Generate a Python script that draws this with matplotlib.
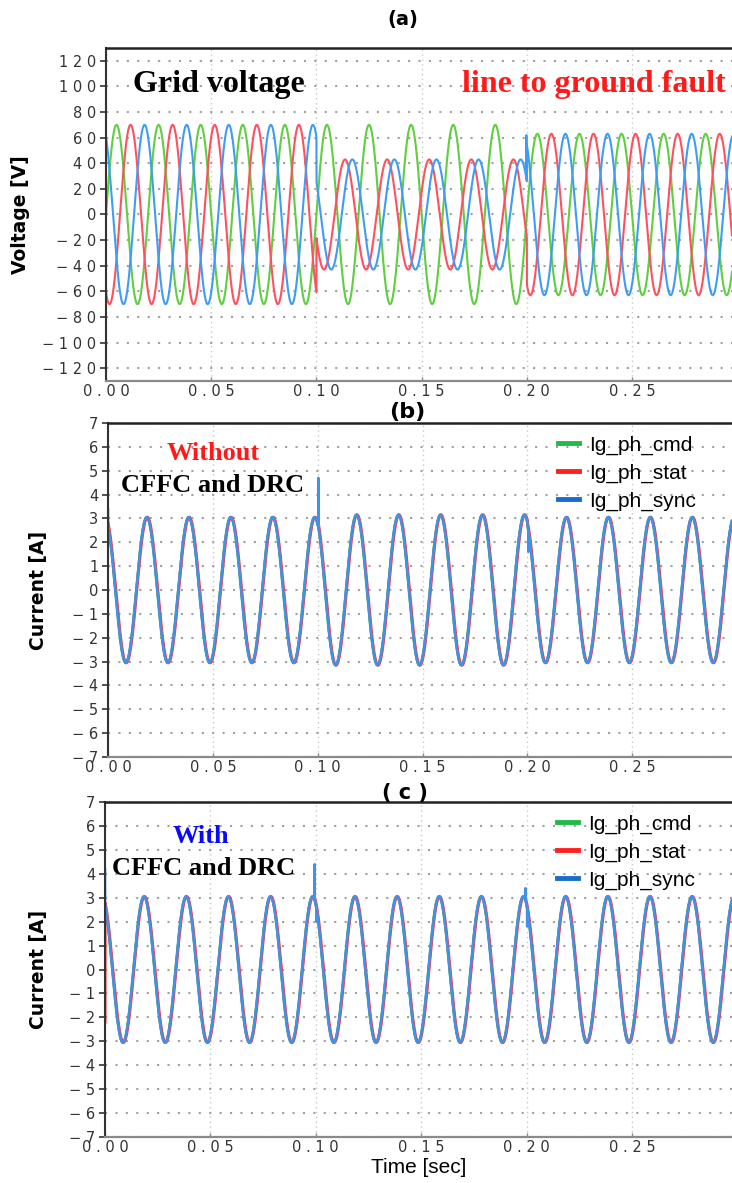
import numpy as np
import matplotlib
matplotlib.use('Agg')
import matplotlib.pyplot as plt
from matplotlib.ticker import FuncFormatter, MultipleLocator

# 时间轴与频率
T_END = 0.2975
FREQ = 50.0
N_PTS = 12000

# (a) 电网电压：分段（故障前 / 单相接地故障 / 故障后）的幅值和相位滞后（度）
V_SEG_START = [0.0, 0.1, 0.2]
V_AMP_GREEN = [70, 70, 63]
V_AMP_RED = [70, 43, 63]
V_AMP_BLUE = [70, 43, 63]
V_LAG_GREEN = [0, 0, 0]
V_LAG_RED = [120, 155, 120]
V_LAG_BLUE = [240, 217, 240]
V_SPIKE_T_BLUE = [0.1998]
V_SPIKE_V_BLUE = [62]

# (b) 无 CFFC/DRC 的电流：分段幅值，第一个峰值时刻
I_SEG_START = [0.0, 0.1, 0.2]
I_AMP_B = [3.05, 3.15, 3.05]
I_AMP_C = [3.05, 3.05, 3.05]
I_PEAK_T = 0.0185
I_STAT_LAG = 0.0002
I_SPIKE_T_B = [0.0, 0.1003, 0.2005]
I_SPIKE_V_B = [3.4, 4.7, 1.6]

# (c) 有 CFFC/DRC 的电流尖峰
I_SPIKE_T_C = [0.0, 0.0995, 0.1003, 0.1995, 0.2003]
I_SPIKE_V_C = [4.2, 4.4, 2.0, 3.4, 1.8]
I_SPIKE_T_C_STAT = [0.0]
I_SPIKE_V_C_STAT = [-2.2]

LEGEND_LABELS = ['Ig_ph_cmd', 'Ig_ph_stat', 'Ig_ph_sync']
X_TICKS = [0.00, 0.05, 0.10, 0.15, 0.20, 0.25]

V_COLORS = ['#5fce3f', '#ff5060', '#3f9cf5']
I_COLORS = ['#33cc55', '#ff3a3a', '#3f92ea']
LEG_COLORS = ['#22b84a', '#ff2020', '#1a6ccc']


def seg_values(t, starts, vals):
    idx = np.searchsorted(starts, t, side='right') - 1
    return np.asarray(vals, dtype=float)[idx]


def voltage(t, amps, lags):
    a = seg_values(t, V_SEG_START, amps)
    lag = np.deg2rad(seg_values(t, V_SEG_START, lags))
    return a * np.sin(2 * np.pi * FREQ * t - lag)


def current(t, amps, shift=0.0):
    a = seg_values(t, I_SEG_START, amps)
    return a * np.cos(2 * np.pi * FREQ * (t - I_PEAK_T - shift))


def add_spikes(t, y, ts, vs):
    y = y.copy()
    for ti, vi in zip(ts, vs):
        y[np.argmin(np.abs(t - ti))] = vi
    return y


def spaced(v, pos, fmt):
    s = fmt.format(v).replace('-', '\u2212')
    if s in ('\u22120', '\u22120.00'):
        s = s[1:]
    return ' '.join(s)


def style_axes(ax, ylim, ystep, yfmt):
    ax.set_xlim(0, T_END)
    ax.set_ylim(*ylim)
    ax.yaxis.set_major_locator(MultipleLocator(ystep))
    ax.set_xticks(X_TICKS)
    ax.yaxis.set_major_formatter(FuncFormatter(lambda v, p: spaced(v, p, yfmt)))
    ax.xaxis.set_major_formatter(FuncFormatter(lambda v, p: spaced(v, p, '{:.2f}')))
    ax.grid(axis='y', color='#a0a0a0', linestyle=(0, (1, 4)), linewidth=1.5)
    ax.grid(axis='x', color='#c8c8c8', linestyle=(0, (1, 2.5)), linewidth=1.0)
    ax.set_axisbelow(True)
    ax.spines['right'].set_visible(False)
    ax.spines['top'].set_linewidth(1.8)
    ax.spines['top'].set_color('#222222')
    ax.spines['left'].set_linewidth(1.5)
    ax.spines['left'].set_color('#333333')
    ax.spines['bottom'].set_linewidth(1.6)
    ax.spines['bottom'].set_color('#8a8a8a')
    ax.tick_params(axis='y', direction='out', length=4, width=1.2, color='#333333',
                   labelsize=10.5, labelcolor='#333333', pad=3)
    ax.tick_params(axis='x', direction='in', length=3, width=1.0, color='#888888',
                   labelsize=10.5, labelcolor='#333333', pad=2)


def draw_current(ax, t, amps, spikes_t, spikes_v, stat_t, stat_v):
    g = current(t, amps)
    r = add_spikes(t, current(t, amps, I_STAT_LAG), stat_t, stat_v)
    b = add_spikes(t, current(t, amps), spikes_t, spikes_v)
    ax.plot(t, g, color=I_COLORS[0], lw=2.0, label=LEGEND_LABELS[0])
    ax.plot(t, r, color=I_COLORS[1], lw=2.2, label=LEGEND_LABELS[1])
    ax.plot(t, b, color=I_COLORS[2], lw=1.8, label=LEGEND_LABELS[2])
    leg = ax.legend(loc='upper left', bbox_to_anchor=(0.721, 0.962), frameon=False,
                    handlelength=1.0, handletextpad=0.5,
                    labelspacing=0.42, borderpad=0, borderaxespad=0,
                    prop={'family': 'Liberation Sans', 'size': 15})
    for h, c in zip(leg.legend_handles, LEG_COLORS):
        h.set_linewidth(3.5)
        h.set_color(c)


fig = plt.figure(figsize=(7.32, 11.83), dpi=100)
W, H = 732, 1183
ax_a = fig.add_axes([106 / W, 1 - 381 / H, (W - 106) / W, 333 / H])
ax_b = fig.add_axes([108 / W, 1 - 757 / H, (W - 108) / W, 334 / H])
ax_c = fig.add_axes([105 / W, 1 - 1137 / H, (W - 105) / W, 335 / H])

t = np.linspace(0, T_END, N_PTS)

# (a) 电压
vg = voltage(t, V_AMP_GREEN, V_LAG_GREEN)
vr = voltage(t, V_AMP_RED, V_LAG_RED)
vb = add_spikes(t, voltage(t, V_AMP_BLUE, V_LAG_BLUE), V_SPIKE_T_BLUE, V_SPIKE_V_BLUE)
ax_a.plot(t, vg, color=V_COLORS[0], lw=1.5)
ax_a.plot(t, vr, color=V_COLORS[1], lw=1.5)
ax_a.plot(t, vb, color=V_COLORS[2], lw=1.5)
style_axes(ax_a, (-130, 130), 20, '{:.0f}')
ax_a.set_ylabel('Voltage [V]', fontsize=13.5, fontweight='bold')
ax_a.yaxis.set_label_coords(-0.121, 0.5)
serif = ['Liberation Serif', 'DejaVu Serif']
ax_a.text(0.043, 0.868, 'Grid voltage', transform=ax_a.transAxes, fontsize=23,
          fontweight='bold', family=serif, va='baseline', ha='left')
ax_a.text(0.990, 0.868, 'line to ground fault', transform=ax_a.transAxes, fontsize=23,
          fontweight='bold', family=serif, color='#ff1a1a', va='baseline', ha='right')

# (b) 无 CFFC 和 DRC
draw_current(ax_b, t, I_AMP_B, I_SPIKE_T_B, I_SPIKE_V_B, [], [])
style_axes(ax_b, (-7, 7), 1, '{:.0f}')
ax_b.set_ylabel('Current [A]', fontsize=13.5, fontweight='bold')
ax_b.yaxis.set_label_coords(-0.096, 0.5)
ax_b.text(0.168, 0.889, 'Without', transform=ax_b.transAxes, fontsize=19,
          fontweight='bold', family=serif, color='#ff1a1a', va='baseline', ha='center')
ax_b.text(0.021, 0.793, 'CFFC and DRC', transform=ax_b.transAxes, fontsize=19,
          fontweight='bold', family=serif, va='baseline', ha='left')

# (c) 有 CFFC 和 DRC
draw_current(ax_c, t, I_AMP_C, I_SPIKE_T_C, I_SPIKE_V_C, I_SPIKE_T_C_STAT, I_SPIKE_V_C_STAT)
style_axes(ax_c, (-7, 7), 1, '{:.0f}')
ax_c.set_ylabel('Current [A]', fontsize=13.5, fontweight='bold')
ax_c.yaxis.set_label_coords(-0.091, 0.5)
ax_c.set_xlabel('Time [sec]', fontsize=15, family='Liberation Sans', labelpad=2)
ax_c.text(0.153, 0.878, 'With', transform=ax_c.transAxes, fontsize=19,
          fontweight='bold', family=serif, color='#0a0aff', va='baseline', ha='center')
ax_c.text(0.011, 0.782, 'CFFC and DRC', transform=ax_c.transAxes, fontsize=19,
          fontweight='bold', family=serif, va='baseline', ha='left')

# 子图标题
fig.text(403 / W, 1 - 20 / H, '(a)', fontsize=14, fontweight='bold', ha='center', va='center')
fig.text(407 / W, 1 - 412 / H, '(b)', fontsize=16, fontweight='bold', ha='center', va='center')
fig.text(405 / W, 1 - 793 / H, '( c )', fontsize=15, fontweight='bold', ha='center', va='center')

fig.savefig('out.png', dpi=100)
